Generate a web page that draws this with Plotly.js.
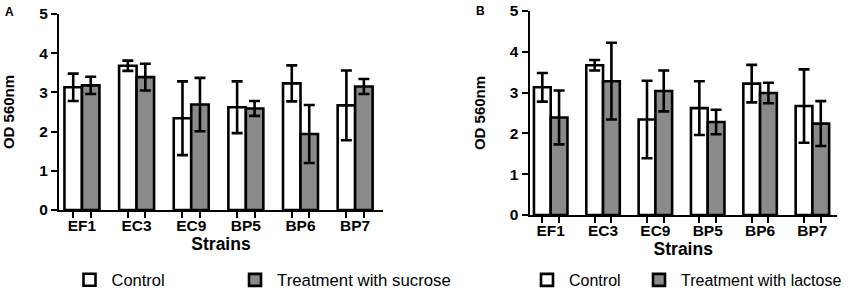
<!DOCTYPE html>
<html><head><meta charset="utf-8">
<script src="https://cdn.plot.ly/plotly-3.0.1.min.js"></script>
<style>html,body{margin:0;padding:0;background:#fff}</style>
</head><body><div id="chart" style="width:851px;height:292px"></div>
<script>
const strains = ['EF1', 'EC3', 'EC9', 'BP5', 'BP6', 'BP7'];
const controlA = [3.13, 3.68, 2.34, 2.62, 3.23, 2.67];
const controlErrA = [0.35, 0.13, 0.94, 0.66, 0.46, 0.89];
const sucrose = [3.18, 3.39, 2.69, 2.59, 1.94, 3.15];
const sucroseErr = [0.22, 0.34, 0.68, 0.19, 0.74, 0.19];
const controlB = [3.13, 3.67, 2.34, 2.62, 3.22, 2.67];
const controlErrB = [0.35, 0.13, 0.95, 0.66, 0.46, 0.90];
const lactose = [2.39, 3.28, 3.04, 2.28, 2.99, 2.24];
const lactoseErr = [0.66, 0.94, 0.50, 0.30, 0.25, 0.55];
const yTicks = [0, 1, 2, 3, 4, 5];
const seriesNames = ['Control', 'Treatment with sucrose', 'Treatment with lactose'];
const panelLabels = ['A', 'B'];
const axisTitles = {x: 'Strains', y: 'OD 560nm'};

const W = 851, H = 292;
const FONT = 'Liberation Sans, Arial, Helvetica, sans-serif';
const GAP = 0.36;
const half = (1 - GAP) / 4;
const idx = strains.map((_, i) => i);
const barTicks = idx.flatMap(i => [i - half, i + half]);

function bar(y, err, name, fill, xa, ya, leg) {
  return {
    type: 'bar', x: idx, y: y, name: name, xaxis: xa, yaxis: ya, legend: leg, showlegend: true,
    marker: {color: fill, line: {color: '#000', width: 2.6}},
    error_y: {type: 'data', array: err, visible: true, color: '#000', thickness: 2.6, width: 5.5},
    hoverinfo: 'skip'
  };
}

const data = [
  bar(controlA, controlErrA, seriesNames[0], '#ffffff', 'x', 'y', 'legend'),
  bar(sucrose, sucroseErr, seriesNames[1], '#8a8a8a', 'x', 'y', 'legend2'),
  bar(controlB, controlErrB, seriesNames[0], '#ffffff', 'x2', 'y2', 'legend3'),
  bar(lactose, lactoseErr, seriesNames[2], '#8a8a8a', 'x2', 'y2', 'legend4')
];

const rangeA = [-0.42, 5.51], rangeB = [-0.405, 5.47];
const domA = [59 / W, 383 / W], domB = [529.5 / W, 837 / W];
const domYA = [(H - 210) / H, (H - 14) / H], domYB = [(H - 215) / H, (H - 11) / H];

function catAxis(dom, range, anchor) {
  return {
    domain: dom, range: range, anchor: anchor, type: 'linear',
    tickmode: 'array', tickvals: idx, ticktext: strains,
    showline: true, linewidth: 2, linecolor: '#000',
    ticks: '', showgrid: false, zeroline: false,
    minor: {tickmode: 'array', tickvals: barTicks, ticks: 'outside', ticklen: 6, tickwidth: 2, tickcolor: '#000', showgrid: false},
    tickfont: {family: FONT, size: 15.5, color: '#000', weight: 'bold'},
    title: {text: axisTitles.x, font: {family: FONT, size: 17.5, color: '#000', weight: 'bold'}, standoff: 4},
    fixedrange: true
  };
}
function valAxis(dom, anchor) {
  return {
    domain: dom, anchor: anchor, range: [0, 5], tickmode: 'array', tickvals: yTicks,
    showline: true, linewidth: 2, linecolor: '#000', ticks: 'outside', ticklen: 6, tickwidth: 2, tickcolor: '#000',
    showgrid: false, zeroline: false,
    tickfont: {family: FONT, size: 15.5, color: '#000', weight: 'bold'},
    title: {text: axisTitles.y, font: {family: FONT, size: 15, color: '#000', weight: 'bold'}, standoff: 21},
    fixedrange: true
  };
}
function legend(x, size) {
  return {
    orientation: 'h', x: x, xanchor: 'left', y: (H - 280) / H, yanchor: 'middle',
    itemwidth: 34,
    font: {family: FONT, size: size, color: '#000'}, bgcolor: 'rgba(0,0,0,0)', borderwidth: 0
  };
}

const layout = {
  width: W, height: H, margin: {l: 0, r: 0, t: 0, b: 0, autoexpand: false},
  paper_bgcolor: '#fff', plot_bgcolor: 'rgba(0,0,0,0)',
  barmode: 'group', bargap: GAP, bargroupgap: 0,
  font: {family: FONT, color: '#000'},
  xaxis: catAxis(domA, rangeA, 'y'),
  xaxis2: catAxis(domB, rangeB, 'y2'),
  yaxis: valAxis(domYA, 'x'),
  yaxis2: valAxis(domYB, 'x2'),
  legend: legend(67.5 / W, 16.5),
  legend2: legend(233 / W, 16.8),
  legend3: legend(525 / W, 16),
  legend4: legend(637 / W, 16),
  annotations: [
    {text: panelLabels[0], xref: 'paper', yref: 'paper', x: 3 / W, y: (H - 12) / H, xanchor: 'left', yanchor: 'middle', showarrow: false,
     font: {family: FONT, size: 12, color: '#000', weight: 'bold'}},
    {text: panelLabels[1], xref: 'paper', yref: 'paper', x: 474 / W, y: (H - 11) / H, xanchor: 'left', yanchor: 'middle', showarrow: false,
     font: {family: FONT, size: 12, color: '#000', weight: 'bold'}}
  ],
  showlegend: true
};

Plotly.newPlot('chart', data, layout, {staticPlot: true, displayModeBar: false});
</script>
</body></html>
